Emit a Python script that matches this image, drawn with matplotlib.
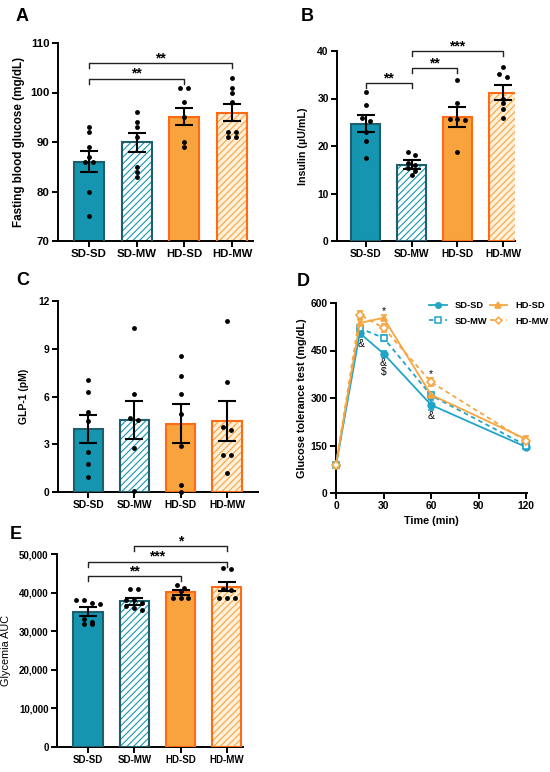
import matplotlib
matplotlib.use('Agg')
import matplotlib.pyplot as plt
import numpy as np
from matplotlib.lines import Line2D

plt.rcParams['font.family'] = ['Liberation Sans', 'DejaVu Sans']
plt.rcParams['font.weight'] = 'bold'
plt.rcParams['axes.labelweight'] = 'bold'
plt.rcParams['hatch.linewidth'] = 0.8

# ---------------- data ----------------
groups = ['SD-SD', 'SD-MW', 'HD-SD', 'HD-MW']

glucose_mean = [86.0, 89.9, 95.1, 95.9]
glucose_sem = [2.1, 1.95, 1.7, 1.75]
glucose_pts = [[93, 92, 89, 87, 86, 86, 80, 75],
               [96, 94, 93, 91, 85, 84, 83],
               [101, 101, 98, 95, 90, 89],
               [103, 101, 100, 98, 92, 92, 91, 91]]

insulin_mean = [24.7, 16.1, 26.2, 31.2]
insulin_sem = [1.85, 0.85, 2.1, 1.55]
insulin_pts = [[31.3, 28.7, 26.0, 25.3, 23.0, 21.0, 17.5],
               [18.7, 18.1, 16.4, 15.9, 15.3, 14.8, 13.8],
               [34.0, 29.0, 25.6, 25.6, 25.4, 18.7],
               [36.6, 35.1, 34.5, 30.0, 29.0, 27.8, 25.8]]

glp1_mean = [3.95, 4.5, 4.3, 4.45]
glp1_sem = [0.9, 1.2, 1.25, 1.25]
glp1_pts = [[7.05, 6.3, 5.0, 4.47, 2.49, 1.78, 0.92],
            [10.3, 6.17, 4.62, 4.54, 2.74, 0.04],
            [8.57, 7.3, 6.15, 4.89, 2.9, 0.46, 0.02],
            [10.75, 6.88, 4.06, 3.9, 2.34, 2.34, 1.19]]

gtt_time = [0, 15, 30, 60, 120]
gtt_sdsd = [88, 505, 440, 278, 145]
gtt_sdsd_sem = [5, 12, 10, 15, 6]
gtt_sdmw = [88, 520, 490, 308, 150]
gtt_sdmw_sem = [5, 12, 10, 12, 6]
gtt_hdsd = [90, 537, 553, 310, 170]
gtt_hdsd_sem = [5, 10, 8, 10, 10]
gtt_hdmw = [90, 563, 522, 350, 163]
gtt_hdmw_sem = [5, 12, 12, 12, 8]
gtt_marks = [(16, 472, '&'), (30, 411, '&'), (30, 381, '$'), (30, 573, '*'),
             (60, 376, '*'), (60, 242, '&')]

auc_mean = [35100, 37750, 40100, 41500]
auc_sem = [1080, 950, 600, 1200]
auc_pts = [[38100, 38100, 37400, 37100, 33200, 32300, 31900, 31900],
           [40900, 40900, 38100, 38000, 37400, 36500, 36000, 35500],
           [42000, 41300, 40500, 38700, 38700, 38600],
           [46400, 46100, 41000, 40600, 38700, 38700, 38600]]

# significance: (i, j, y, text)
sig_A = [(0, 3, 105.9, '**'), (0, 2, 102.8, '**')]
sig_B = [(0, 1, 33.2, '**'), (1, 2, 36.4, '**'), (1, 3, 40.0, '***')]
sig_E = [(1, 3, 52000, '*'), (0, 3, 48000, '***'), (0, 2, 44200, '**')]

# ---------------- styles ----------------
TEAL = '#1595b0'
TEAL_DK = '#1f5f6d'
ORANGE = '#f9a33f'
ORANGE_DK = '#ff6a12'
LTEAL = '#20a5c8'
LORANGE = '#f7a540'

bar_styles = [
    dict(face=TEAL, hatchcol=TEAL, hatch=None, edge=TEAL_DK),
    dict(face='white', hatchcol=TEAL, hatch='/////', edge=TEAL_DK),
    dict(face=ORANGE, hatchcol=ORANGE, hatch=None, edge=ORANGE_DK),
    dict(face='#fff0dc', hatchcol=ORANGE, hatch='/////', edge=ORANGE_DK),
]

W, H = 550, 772
fig = plt.figure(figsize=(5.5, 7.72), dpi=100)


def rect(l, r, t, b):
    return [l / W, 1 - b / H, (r - l) / W, (b - t) / H]


def style_axis(ax, fs):
    for s in ['top', 'right']:
        ax.spines[s].set_visible(False)
    for s in ['left', 'bottom']:
        ax.spines[s].set_linewidth(1.4)
    ax.tick_params(width=1.4, length=4, labelsize=fs, pad=2)
    for lab in ax.get_xticklabels() + ax.get_yticklabels():
        lab.set_fontweight('bold')


def swarm_x(ax, xc, vals, d_px=7.8, thr_px=4.5):
    tr = ax.transData
    inv = tr.inverted()
    x0 = tr.transform((xc, 0))[0]
    order = np.argsort(vals, kind='stable')[::-1]
    ypx = [tr.transform((xc, vals[k]))[1] for k in order]
    rows = [[order[0]]]
    start = ypx[0]
    for k, yp in zip(order[1:], ypx[1:]):
        if abs(start - yp) < thr_px:
            rows[-1].append(k)
        else:
            rows.append([k])
            start = yp
    xs = np.zeros(len(vals))
    for row in rows:
        n = len(row)
        for j, k in enumerate(row):
            off = (j - (n - 1) / 2) * d_px
            xs[k] = inv.transform((x0 + off, 0))[0]
    return xs


def bar_panel(ax, means, sems, pts, ylim, yticks, xlim, ylabel, labx, fs, lfs,
              lweight='bold', yfmt=None):
    ax.set_xlim(*xlim)
    ax.set_ylim(*ylim)
    x = np.arange(len(groups))
    for i in range(len(groups)):
        st = bar_styles[i]
        ax.bar(x[i], means[i], width=0.63, color=st['face'], edgecolor=st['hatchcol'],
               hatch=st['hatch'], linewidth=0, zorder=2)
        ax.bar(x[i], means[i], width=0.63, fill=False, edgecolor=st['edge'],
               linewidth=1.5, zorder=3)
    for i in range(len(groups)):
        xs = swarm_x(ax, x[i], pts[i])
        ax.plot(xs, pts[i], 'o', color='black', markersize=3.5, zorder=4,
                clip_on=False, markeredgewidth=0)
    ax.errorbar(x, means, yerr=sems, fmt='none', ecolor='black', elinewidth=1.5,
                capsize=6.5, capthick=1.5, zorder=5)
    ax.set_xticks(x)
    ax.set_xticklabels(groups)
    ax.set_yticks(yticks)
    if yfmt:
        ax.set_yticklabels([yfmt(v) for v in yticks])
    ax.set_ylabel(ylabel, fontsize=lfs, fontweight=lweight)
    ax.yaxis.set_label_coords(labx, 0.5)
    style_axis(ax, fs)


def brackets(ax, sigs, drop):
    for i, j, y, t in sigs:
        ax.plot([i, i, j, j], [y - drop, y, y, y - drop], color='#222222', lw=1.0,
                clip_on=False, zorder=6)
        ax.annotate(t, xy=((i + j) / 2, y), xytext=(0, -1.5), textcoords='offset points',
                    ha='center', va='bottom', fontsize=10, fontweight='bold',
                    annotation_clip=False)


# ---- A ----
axA = fig.add_axes(rect(58, 253, 43, 241))
bar_panel(axA, glucose_mean, glucose_sem, glucose_pts, (70, 110), [70, 80, 90, 100, 110],
          (-0.65, 3.44), 'Fasting blood glucose (mg/dL)', (25 - 58) / 195, 8.2, 8.4)
brackets(axA, sig_A, 1.0)

# ---- B ----
axB = fig.add_axes(rect(337, 515, 51, 241))
bar_panel(axB, insulin_mean, insulin_sem, insulin_pts, (0, 40), [0, 10, 20, 30, 40],
          (-0.63, 3.26), 'Insulin (µU/mL)', (308 - 337) / 178, 7.4, 7.7)
brackets(axB, sig_B, 1.0)

# ---- C ----
axC = fig.add_axes(rect(58, 258, 301, 492))
bar_panel(axC, glp1_mean, glp1_sem, glp1_pts, (0, 12), [0, 3, 6, 9, 12],
          (-0.65, 3.67), 'GLP-1 (pM)', (29 - 58) / 200, 7.4, 7.5)

# ---- D ----
axD = fig.add_axes(rect(336, 527, 303, 493))
axD.set_xlim(0, 120.5)
axD.set_ylim(0, 600)
series = [
    ('SD-SD', gtt_sdsd, gtt_sdsd_sem, LTEAL, 'o', '-', LTEAL),
    ('SD-MW', gtt_sdmw, gtt_sdmw_sem, LTEAL, 's', (0, (2.5, 2)), 'white'),
    ('HD-SD', gtt_hdsd, gtt_hdsd_sem, LORANGE, '^', '-', LORANGE),
    ('HD-MW', gtt_hdmw, gtt_hdmw_sem, LORANGE, 'D', (0, (2.5, 2)), 'white'),
]
handles = []
for name, vals, sem, col, mk, ls, mfc in series:
    ms = 4.8 if mk != 'D' else 4.2
    axD.errorbar(gtt_time, vals, yerr=sem, color=col, ecolor=col, elinewidth=1.2,
                 capsize=2.5, capthick=1.2, linestyle=ls, linewidth=1.3, marker=mk,
                 markersize=ms, markerfacecolor=mfc,
                 markeredgecolor=col, markeredgewidth=1.2, clip_on=False, zorder=3)
    handles.append(Line2D([], [], color=col, linestyle=ls, linewidth=1.3, marker=mk,
                          markersize=ms - 0.8, markerfacecolor=mfc,
                          markeredgecolor=col, markeredgewidth=1.1, label=name))
for xm, ym, t in gtt_marks:
    axD.text(xm, ym, t, ha='center', va='center', fontsize=7.5, fontweight='normal')
axD.set_xticks([0, 30, 60, 90, 120])
axD.set_yticks([0, 150, 300, 450, 600])
axD.set_xlabel('Time (min)', fontsize=7.8, fontweight='bold', labelpad=3)
axD.set_ylabel('Glucose tolerance test (mg/dL)', fontsize=7.8, fontweight='bold')
axD.yaxis.set_label_coords((307 - 336) / 191, 0.5)
style_axis(axD, 7.4)
leg = fig.legend(handles=handles, loc='upper left', bbox_to_anchor=(429 / W, 1 - 301 / H),
                 ncol=2, frameon=False, fontsize=6.7, handlelength=1.9, handletextpad=0.9,
                 columnspacing=0.2, labelspacing=0.7, borderaxespad=0, borderpad=0)
for t in leg.get_texts():
    t.set_fontweight('bold')

# ---- E ----
axE = fig.add_axes(rect(57, 243, 554, 747))
bar_panel(axE, auc_mean, auc_sem, auc_pts, (0, 50000), [0, 10000, 20000, 30000, 40000, 50000],
          (-0.67, 3.35), 'Glycemia AUC', (11 - 57) / 186, 7.0, 7.8, lweight='normal',
          yfmt=lambda v: f'{v:,}')
brackets(axE, sig_E, 1300)

# panel letters
for lab, xp, yp in [('A', 16, 21), ('B', 301, 21), ('C', 16, 285), ('D', 297, 286), ('E', 10, 539)]:
    fig.text(xp / W, 1 - yp / H, lab, fontsize=13, fontweight='bold', ha='left', va='baseline')

fig.savefig('out.png', dpi=100)
